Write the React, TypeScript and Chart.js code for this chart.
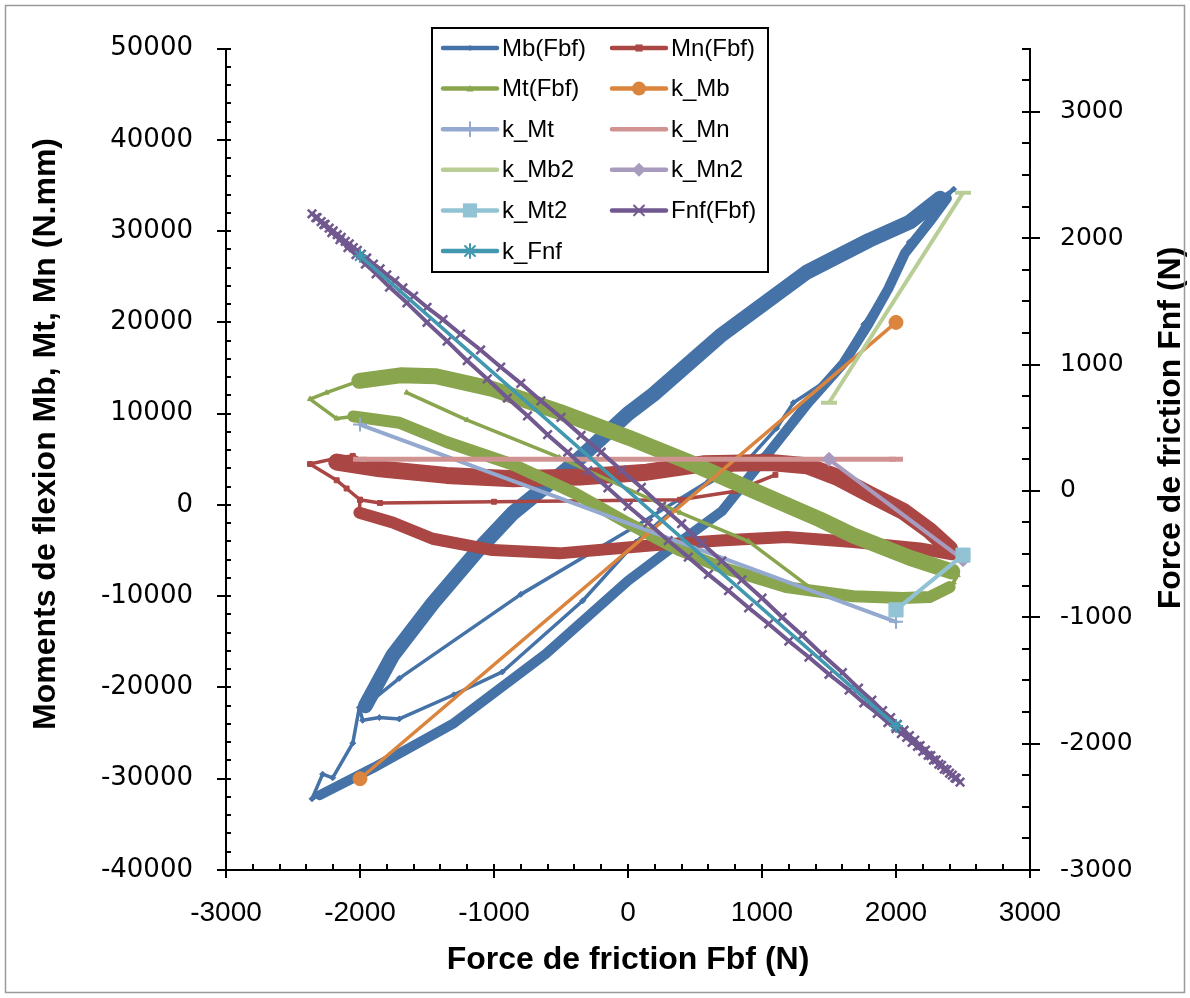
import React, { useEffect, useRef } from 'react';
import { Chart, registerables } from 'chart.js';

Chart.register(...registerables);

type Pt = [number, number] | null;

// ---------- axes ----------
const xTicks = [-3000, -2000, -1000, 0, 1000, 2000, 3000];
const yTicks = [-40000, -30000, -20000, -10000, 0, 10000, 20000, 30000, 40000, 50000];
const y1Ticks = [-3000, -2000, -1000, 0, 1000, 2000, 3000];
const X_RANGE = [-3000, 3000];
const Y_RANGE = [-40000, 50000];
const Y1_RANGE = [-3000, 3500];
const X_MINOR = 200;
const Y_MINOR = 2000;
const Y1_MINOR = 250;

const X_TITLE = 'Force de friction Fbf (N)';
const Y_TITLE = 'Moments de flexion Mb, Mt, Mn (N.mm)';
const Y1_TITLE = 'Force de friction Fnf (N)';

// ---------- Mb(Fbf) ----------
const mbUpperBand: Pt[] = [[-1960, -22000], [-1756, -16500], [-1458, -10800], [-1110, -4800], [-860, -900], [-400, 4600], [0, 10000], [189, 12100], [687, 18500], [1333, 25500], [1800, 29000], [2104, 31000], [2330, 33600]];
const mbLowerBand: Pt[] = [[2380, 33600], [2250, 31000], [2067, 27600], [1943, 23700], [1793, 19800], [1607, 15500], [1346, 11200], [1060, 5900], [700, -700], [300, -5000], [0, -8300], [-612, -16300], [-1308, -24000], [-1900, -28800], [-2300, -31800]];
const mbThin: Pt[] = [[2330, 33600], [2430, 34600], [2250, 31500], [2100, 28800], [1930, 23700], [1760, 19800], [1532, 14100], [1234, 11200], [1109, 8400], [886, 4800], [500, 1500], [60, -4050], [-338, -10500], [-938, -18300], [-1300, -20800], [-1707, -23450], [-1856, -23300], [-1980, -23600], [-2005, -22200], [-2054, -26100], [-2204, -29900], [-2279, -29500], [-2358, -32200], [-2300, -31800], null,
  [-1960, -22000], [-1707, -19000], [-800, -9800], [60, -2300], [600, 2600], [1060, 5900]];

// ---------- Mn(Fbf) ----------
const mnUpperBand: Pt[] = [[-2174, 4700], [-1851, 3950], [-1355, 3235], [-856, 2880], [-358, 3058], [140, 3590], [562, 4500], [1060, 4650], [1333, 4302], [1557, 3058], [1806, 1150], [2055, -700], [2250, -2800], [2400, -4800]];
const mnLowerBand: Pt[] = [[2420, -5400], [2179, -4772], [1681, -4057], [1184, -3523], [687, -3886], [189, -4420], [-512, -5306], [-1010, -4950], [-1458, -3705], [-1756, -1922], [-2005, -854]];
const mnThin: Pt[] = [[-2005, -854], [-2000, 566], [-2100, 1800], [-2174, 2701], [-2373, 4484], [-2157, 5188], [-2054, 5370], [-1851, 3950], null,
  [-2000, 566], [-1851, 213], [-1000, 350], [388, 566], [800, 1500], [1100, 3300], null,
  [2250, -2800], [2470, -5300], [2179, -4772]];

// ---------- Mt(Fbf) ----------
const mtUpperBand: Pt[] = [[-2005, 13600], [-1700, 14200], [-1433, 14100], [-1010, 12700], [-512, 10200], [0, 7400], [438, 4800], [933, 1600], [1433, -1600], [1681, -3350], [2104, -5800], [2420, -7300]];
const mtLowerBand: Pt[] = [[2400, -9000], [2250, -10100], [2050, -10200], [1680, -10000], [1180, -9000], [690, -6800], [390, -5000], [0, -2000], [-400, 1300], [-856, 4400], [-1355, 6900], [-1707, 9000], [-2050, 9700]];
const mtThin: Pt[] = [[-2050, 9700], [-2174, 9459], [-2373, 11600], [-2250, 12300], [-2005, 13600], null,
  [2420, -7300], [2460, -7700], [2430, -8500], [2400, -9000], null,
  [-1652, 12309], [-1200, 9300], [-512, 5200], [388, -854], [900, -4000], [1400, -9500]];

// ---------- reference lines ----------
const kMb: Pt[] = [[-2000, -30000], [2000, 20000]];
const kMt: Pt[] = [[-2000, 8800], [2000, -12800]];
const kMn: Pt[] = [[-2000, 5000], [2000, 5000]];
const kMb2: Pt[] = [[1500, 11200], [2500, 34200]];
const kMn2: Pt[] = [[1500, 5000], [2500, -6000]];
const kMt2: Pt[] = [[2000, -11500], [2500, -5500]];
const kFnf: Pt[] = [[-2000, 1860], [2000, -1860]];

// ---------- Fnf(Fbf) (right axis) ----------
const fnf: Pt[] = [
  [-2358, 2193], [-2320, 2162], [-2290, 2131], [-2260, 2110], [-2230, 2080], [-2200, 2058], [-2170, 2027], [-2140, 2006], [-2110, 1975], [-2080, 1954], [-2050, 1925], [-2020, 1903], [-1990, 1873], [-1950, 1843], [-1900, 1795], [-1850, 1757], [-1800, 1710], [-1740, 1662], [-1680, 1606], [-1600, 1542], [-1500, 1453], [-1380, 1355], [-1250, 1241], [-1100, 1115], [-950, 980], [-800, 851], [-650, 713], [-500, 581], [-350, 440], [-200, 306], [-50, 163], [100, 27], [250, -120], [400, -260], [550, -412], [700, -554], [850, -705], [1000, -848], [1150, -1000], [1300, -1143], [1450, -1295], [1600, -1438], [1720, -1561], [1820, -1656], [1900, -1739], [1960, -1795], [2010, -1848], [2060, -1894], [2100, -1937], [2140, -1972], [2180, -2015], [2220, -2051], [2260, -2094], [2300, -2129], [2340, -2172], [2380, -2207], [2420, -2250], [2450, -2274], [2478, -2305],
  [2440, -2271], [2400, -2234], [2360, -2202], [2320, -2163], [2280, -2131], [2240, -2092], [2200, -2061], [2160, -2022], [2120, -1991], [2080, -1951], [2040, -1920], [2000, -1881], [1940, -1834], [1860, -1761], [1760, -1678], [1650, -1577], [1500, -1451], [1350, -1316], [1200, -1188], [1050, -1053], [900, -925], [750, -790], [600, -661], [450, -524], [300, -393], [150, -254], [0, -120], [-150, 24], [-300, 160], [-450, 306], [-600, 445], [-750, 594], [-900, 735], [-1050, 886], [-1200, 1030], [-1350, 1185], [-1500, 1333], [-1650, 1488], [-1780, 1613], [-1880, 1718], [-1960, 1795], [-2030, 1869], [-2090, 1925], [-2150, 1989], [-2210, 2044], [-2270, 2108], [-2330, 2163],
];

// ---------- colours ----------
const BLUE = '#4572A7';
const RED = '#AA4643';
const GREEN = '#89A54E';
const ORANGE = '#DB843D';
const LBLUE = '#93A9CF';
const PINK = '#D19392';
const LGREEN = '#B9CD96';
const LAV = '#A99BBD';
const AQUA = '#92C3D4';
const PURPLE = '#71588F';
const TEAL = '#4198AF';

const legendItems = [
  { label: 'Mb(Fbf)', color: BLUE, style: 'rectRot', r: 3 },
  { label: 'Mn(Fbf)', color: RED, style: 'rect', r: 5 },
  { label: 'Mt(Fbf)', color: GREEN, style: 'triangle', r: 3.5 },
  { label: 'k_Mb', color: ORANGE, style: 'circle', r: 7 },
  { label: 'k_Mt', color: LBLUE, style: 'cross', r: 7 },
  { label: 'k_Mn', color: PINK, style: 'none', r: 0 },
  { label: 'k_Mb2', color: LGREEN, style: 'none', r: 0 },
  { label: 'k_Mn2', color: LAV, style: 'rectRot', r: 7 },
  { label: 'k_Mt2', color: AQUA, style: 'rect', r: 10 },
  { label: 'Fnf(Fbf)', color: PURPLE, style: 'crossRot', r: 7 },
  { label: 'k_Fnf', color: TEAL, style: 'star', r: 7 },
];

const pts = (arr: Pt[]) => arr.map((p) => (p ? { x: p[0], y: p[1] } : { x: null, y: null }));

function series(data: Pt[], color: string, width: number, opts: any = {}) {
  return {
    data: pts(data),
    borderColor: color,
    backgroundColor: color,
    borderWidth: width,
    pointRadius: 0,
    pointBackgroundColor: color,
    pointBorderColor: color,
    pointBorderWidth: 1,
    borderJoinStyle: 'round',
    borderCapStyle: 'round',
    yAxisID: 'y',
    spanGaps: false,
    ...opts,
  };
}

function marker(ctx: CanvasRenderingContext2D, style: string, r: number, x: number, y: number, color: string) {
  ctx.save();
  ctx.fillStyle = color;
  ctx.strokeStyle = color;
  ctx.lineWidth = 2;
  ctx.beginPath();
  const s = r * Math.SQRT1_2;
  switch (style) {
    case 'circle':
      ctx.arc(x, y, r, 0, Math.PI * 2);
      ctx.fill();
      break;
    case 'rect':
      ctx.fillRect(x - s, y - s, 2 * s, 2 * s);
      break;
    case 'rectRot':
      ctx.moveTo(x, y - r); ctx.lineTo(x + r, y); ctx.lineTo(x, y + r); ctx.lineTo(x - r, y); ctx.closePath();
      ctx.fill();
      break;
    case 'triangle':
      ctx.moveTo(x, y - r); ctx.lineTo(x + r, y + r * 0.8); ctx.lineTo(x - r, y + r * 0.8); ctx.closePath();
      ctx.fill();
      break;
    case 'cross':
      ctx.moveTo(x, y - r); ctx.lineTo(x, y + r); ctx.moveTo(x - r, y); ctx.lineTo(x + r, y);
      ctx.stroke();
      break;
    case 'crossRot':
      ctx.moveTo(x - s, y - s); ctx.lineTo(x + s, y + s); ctx.moveTo(x + s, y - s); ctx.lineTo(x - s, y + s);
      ctx.stroke();
      break;
    case 'star':
      ctx.moveTo(x, y - r); ctx.lineTo(x, y + r); ctx.moveTo(x - r, y); ctx.lineTo(x + r, y);
      ctx.moveTo(x - s, y - s); ctx.lineTo(x + s, y + s); ctx.moveTo(x + s, y - s); ctx.lineTo(x - s, y + s);
      ctx.stroke();
      break;
    default:
      break;
  }
  ctx.restore();
}

const TITLE_FONT_CSS = "bold 32px 'Liberation Sans', Arial, sans-serif";

const axisTicksPlugin = {
  id: 'axisTicks',
  beforeDatasetsDraw(chart: any) {
    const { ctx, chartArea: a, scales } = chart;
    ctx.save();
    ctx.strokeStyle = '#000';
    ctx.lineWidth = 2;
    const line = (x1: number, y1: number, x2: number, y2: number) => {
      ctx.beginPath(); ctx.moveTo(x1, y1); ctx.lineTo(x2, y2); ctx.stroke();
    };
    for (let v = X_RANGE[0]; v <= X_RANGE[1]; v += X_MINOR) {
      const p = Math.round(scales.x.getPixelForValue(v));
      const major = xTicks.includes(v);
      line(p, a.bottom - 6, p, a.bottom + (major ? 8 : 0));
    }
    for (let v = Y_RANGE[0]; v <= Y_RANGE[1]; v += Y_MINOR) {
      const p = Math.round(scales.y.getPixelForValue(v));
      const major = yTicks.includes(v);
      line(a.left - (major ? 9 : 0), p, a.left + 5, p);
    }
    for (let v = Y1_RANGE[0]; v <= Y1_RANGE[1]; v += Y1_MINOR) {
      const p = Math.round(scales.y1.getPixelForValue(v));
      const major = y1Ticks.includes(v);
      line(a.right - 8, p, a.right + (major ? 10 : 0), p);
    }
    // vertical axis titles, both reading bottom-to-top
    ctx.fillStyle = '#000';
    ctx.font = TITLE_FONT_CSS;
    ctx.textAlign = 'center';
    ctx.textBaseline = 'middle';
    const vTitle = (text: string, x: number, y: number) => {
      ctx.save();
      ctx.translate(x, y);
      ctx.rotate(-Math.PI / 2);
      ctx.fillText(text, 0, 0);
      ctx.restore();
    };
    vTitle(Y_TITLE, 46, 434);
    vTitle(Y1_TITLE, 1171, 428);
    ctx.restore();
  },
};

const legendPlugin = {
  id: 'boxLegend',
  afterDraw(chart: any) {
    const ctx: CanvasRenderingContext2D = chart.ctx;
    const box = { x: 432, y: 28, w: 336, h: 244 };
    ctx.save();
    ctx.fillStyle = '#fff';
    ctx.fillRect(box.x, box.y, box.w, box.h);
    ctx.strokeStyle = '#000';
    ctx.lineWidth = 2;
    ctx.strokeRect(box.x, box.y, box.w, box.h);
    ctx.font = "24px 'Liberation Sans', Arial, sans-serif";
    ctx.textBaseline = 'middle';
    ctx.textAlign = 'left';
    const cols = [443, 612];
    legendItems.forEach((it, i) => {
      const col = i % 2;
      const row = Math.floor(i / 2);
      const y = 48 + row * 40.6;
      const x0 = cols[col];
      ctx.strokeStyle = it.color;
      ctx.lineWidth = 4.5;
      ctx.lineCap = 'round';
      ctx.beginPath(); ctx.moveTo(x0, y); ctx.lineTo(x0 + 54, y); ctx.stroke();
      marker(ctx, it.style, it.r, x0 + 27, y, it.color);
      ctx.fillStyle = '#000';
      ctx.fillText(it.label, x0 + 59, y + 1);
    });
    // outer chart frame
    ctx.strokeStyle = '#9a9a9a';
    ctx.lineWidth = 1.5;
    ctx.strokeRect(5.5, 5.5, 1179, 987);
    ctx.restore();
  },
};

const titleFont = { family: "'Liberation Sans', Arial, sans-serif", size: 32, weight: 'bold' as const };

export default function App() {
  const ref = useRef<HTMLCanvasElement>(null);
  useEffect(() => {
    const list = [
      series(mbUpperBand, BLUE, 15),
      series(mbLowerBand, BLUE, 10),
      series(mbThin, BLUE, 3.5, { pointStyle: 'rectRot', pointRadius: 3 }),
      series(mnUpperBand, RED, 17),
      series(mnLowerBand, RED, 12),
      series(mnThin, RED, 3.5, { pointStyle: 'rect', pointRadius: 3.5 }),
      series(mtUpperBand, GREEN, 16),
      series(mtLowerBand, GREEN, 12),
      series(mtThin, GREEN, 3.5, { pointStyle: 'triangle', pointRadius: 3 }),
      series(kMb, ORANGE, 3.5, { pointStyle: 'circle', pointRadius: 7 }),
      series(kMt, LBLUE, 4, { pointStyle: 'cross', pointRadius: 7, pointBorderWidth: 2 }),
      series(kMn, PINK, 5, { pointStyle: 'line', pointRadius: 7, pointBorderWidth: 5, borderCapStyle: 'butt' }),
      series(kMb2, LGREEN, 4, { pointStyle: 'line', pointRadius: 8, pointBorderWidth: 4, borderCapStyle: 'butt' }),
      series(kMn2, LAV, 4, { pointStyle: 'rectRot', pointRadius: 7 }),
      series(kMt2, AQUA, 4, { pointStyle: 'rect', pointRadius: 10 }),
      series(fnf, PURPLE, 4, { yAxisID: 'y1', pointStyle: 'crossRot', pointRadius: 6, pointBorderWidth: 2.5 }),
      series(kFnf, TEAL, 3.5, { yAxisID: 'y1', pointStyle: 'star', pointRadius: 7, pointBorderWidth: 2 }),
    ];
    const datasets = list.map((d, i) => ({ ...d, order: list.length - i }));

    const chart = new Chart(ref.current as HTMLCanvasElement, {
      type: 'line',
      data: { datasets: datasets as any },
      options: {
        animation: false,
        responsive: false,
        devicePixelRatio: 1,
        events: [],
        layout: { padding: { top: 27, left: 0, right: 0, bottom: 0 } },
        plugins: { legend: { display: false }, tooltip: { enabled: false } },
        scales: {
          x: {
            type: 'linear',
            min: X_RANGE[0],
            max: X_RANGE[1],
            afterBuildTicks: (s: any) => { s.ticks = xTicks.map((v) => ({ value: v })); },
            afterFit: (s: any) => { s.height = 128; },
            grid: { display: false, drawTicks: false },
            border: { display: true, color: '#000', width: 2 },
            ticks: {
              autoSkip: false,
              maxRotation: 0,
              padding: 26,
              color: '#000',
              font: { family: "'Liberation Sans', Arial, sans-serif", size: 28 },
              callback: (v: any) => String(v),
            },
            title: {
              display: true,
              text: X_TITLE,
              color: '#000',
              font: titleFont,
              padding: { top: 0, bottom: 19 },
            },
          },
          y: {
            type: 'linear',
            position: 'left',
            min: Y_RANGE[0],
            max: Y_RANGE[1],
            afterBuildTicks: (s: any) => { s.ticks = yTicks.map((v) => ({ value: v })); },
            afterFit: (s: any) => { s.width = 226; },
            grid: { display: false, drawTicks: false },
            border: { display: true, color: '#000', width: 2 },
            ticks: {
              padding: 33,
              color: '#000',
              font: { family: "'DejaVu Sans', sans-serif", size: 26 },
              callback: (v: any) => String(v),
            },
            title: { display: false },
          },
          y1: {
            type: 'linear',
            position: 'right',
            min: Y1_RANGE[0],
            max: Y1_RANGE[1],
            afterBuildTicks: (s: any) => { s.ticks = y1Ticks.map((v) => ({ value: v })); },
            afterFit: (s: any) => { s.width = 160; },
            grid: { display: false, drawTicks: false },
            border: { display: true, color: '#000', width: 2 },
            ticks: {
              padding: 30,
              color: '#000',
              font: { family: "'DejaVu Sans', sans-serif", size: 25 },
              callback: (v: any) => String(v),
            },
            title: { display: false },
          },
        },
      } as any,
      plugins: [axisTicksPlugin, legendPlugin],
    });
    return () => chart.destroy();
  }, []);

  return (
    <div style={{ position: 'absolute', left: 0, top: 0, width: 1190, height: 998, background: '#fff' }}>
      <canvas ref={ref} width={1190} height={998} style={{ display: 'block', width: 1190, height: 998 }} />
    </div>
  );
}
